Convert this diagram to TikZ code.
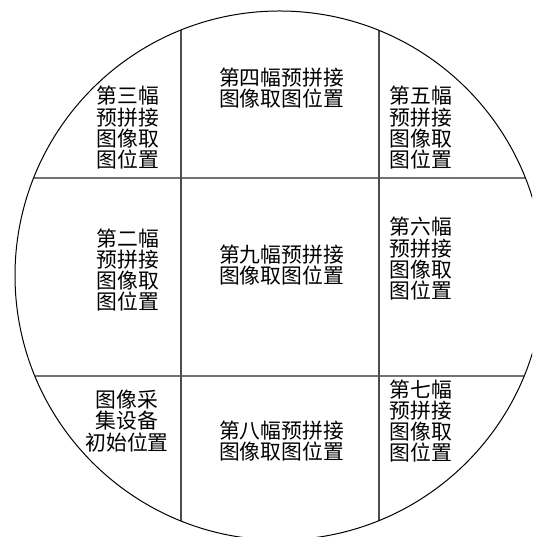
\documentclass[tikz,border=0pt]{standalone}
\usepackage{fontspec}
\newfontfamily\cjk{Noto Sans CJK SC}
\begin{document}
\begin{tikzpicture}[x=1pt,y=1pt,
  lbl/.style={font=\cjk\fontsize{20.8}{21.3}\selectfont, align=center, inner sep=0pt},
  hline/.style={draw={rgb,1:red,0.45;green,0.45;blue,0.45}, line width=1.6pt},
  vline/.style={draw={rgb,1:red,0.3;green,0.3;blue,0.3}, line width=1.2pt},
  rim/.style={draw=black, line width=1pt}]
\useasboundingbox (0,0) rectangle (532,537);
\clip (0,0) rectangle (532,537);
\fill[white] (0,0) rectangle (532,537);
\coordinate (c) at (279.5,261.5);
\begin{scope}
  \clip (c) circle (264.5);
  \draw[hline] (0,359) -- (560,359);
  \draw[hline] (0,161) -- (560,161);
  \draw[vline] (181,0) -- (181,560);
  \draw[vline] (379,0) -- (379,560);
\end{scope}
\draw[rim] (c) circle (264.5);
\node[lbl] (n3) at (128,409) {第三幅\\预拼接\\图像取\\图位置};
\node[lbl] (n4) at (281.5,449) {第四幅预拼接\\图像取图位置};
\node[lbl] (n5) at (421,409) {第五幅\\预拼接\\图像取\\图位置};
\node[lbl] (n2) at (128,267) {第二幅\\预拼接\\图像取\\图位置};
\node[lbl] (n9) at (281.5,272) {第九幅预拼接\\图像取图位置};
\node[lbl] (n6) at (421,278) {第六幅\\预拼接\\图像取\\图位置};
\node[lbl] (n1) at (127,116) {图像采\\集设备\\初始位置};
\node[lbl] (n8) at (281.5,96) {第八幅预拼接\\图像取图位置};
\node[lbl] (n7) at (421,116) {第七幅\\预拼接\\图像取\\图位置};
\end{tikzpicture}
\end{document}
